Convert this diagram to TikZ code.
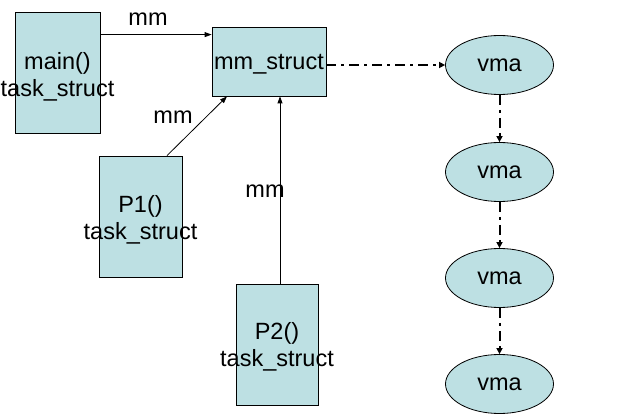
\documentclass[tikz,border=0pt]{standalone}
\usepackage{fontspec}
\setmainfont{Liberation Sans}
\usetikzlibrary{arrows.meta,shapes.geometric}
\definecolor{boxfill}{RGB}{189,224,227}
\newcommand{\zl}[1]{\makebox[0pt]{#1}}
\tikzset{
  x=1pt,y=-1pt,
  every node/.style={font=\fontsize{23.5}{27}\selectfont},
  tbox/.style={draw=black,line width=0.8pt,fill=boxfill,rectangle,inner sep=0pt,align=center},
  txt/.style={inner sep=0pt,align=center},
  vbox/.style={draw=black,line width=0.8pt,fill=boxfill,ellipse,inner sep=0pt,minimum width=108pt,minimum height=59pt},
  arr/.style={draw=black,line width=0.8pt,-{Triangle[length=7pt,width=5pt]}},
  darr/.style={draw=black,line width=2pt,dash pattern=on 10pt off 5pt on 3pt off 5pt,-{Triangle[length=6pt,width=6pt]}},
  lbl/.style={inner sep=0pt}
}
\begin{document}
\begin{tikzpicture}
\useasboundingbox (0,0) rectangle (638,414);
\node[tbox,minimum width=85pt,minimum height=121pt] (main) at (57.5,72.5) {};
\node[txt] (maint) at (57.5,76.5) {\zl{main()}\\\zl{task\_struct}};
\node[tbox,minimum width=114pt,minimum height=69pt] (mm) at (269,61.5) {};
\node[txt] (mmt) at (269,64.5) {\zl{mm\_struct}};
\node[tbox,minimum width=83pt,minimum height=121pt] (p1) at (140.5,216.5) {};
\node[txt] (p1t) at (140.5,220) {\zl{P1()}\\\zl{task\_struct}};
\node[tbox,minimum width=82pt,minimum height=121pt] (p2) at (277,344.5) {};
\node[txt] (p2t) at (277,347) {\zl{P2()}\\\zl{task\_struct}};
\node[vbox] (v1) at (499.5,65) {vma};
\node[vbox] (v2) at (499.5,172) {vma};
\node[vbox] (v3) at (499.5,278) {vma};
\node[vbox] (v4) at (499.5,384) {vma};
\node[lbl] (l1) at (148,19) {mm};
\node[lbl] (l2) at (173,117) {mm};
\node[lbl] (l3) at (265,191) {mm};
\draw[arr] ([yshift=-23pt]main.north east) -- ([yshift=-23pt]main.north east -| mm.west);
\draw[arr] ([xshift=26.5pt]p1.north) -- ([xshift=-42pt]mm.south);
\draw[arr] ([xshift=3pt]p2.north) -- ([xshift=3pt]p2.north |- mm.south);
\draw[darr] (mm.east |- v1.west) -- (v1.west);
\draw[darr] (v1.south) -- (v2.north);
\draw[darr] (v2.south) -- (v3.north);
\draw[darr] (v3.south) -- (v4.north);
\end{tikzpicture}
\end{document}
